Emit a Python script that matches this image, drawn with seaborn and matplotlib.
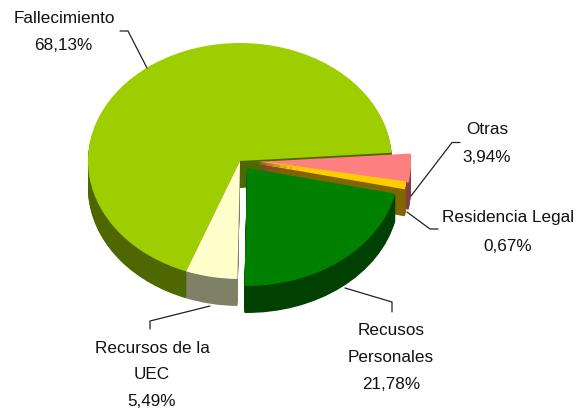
import matplotlib
matplotlib.use("Agg")
import matplotlib.pyplot as plt
import seaborn as sns

labels = ["Fallecimiento", "Recursos de la UEC", "Recusos Personales", "Residencia Legal", "Otras"]
values = [68.13, 5.49, 21.78, 0.67, 3.94]
face_colors = ["#9FCE00", "#FFFFCC", "#008000", "#FFCC00", "#FF8080"]
side_colors = ["#4F6700", "#808066", "#004000", "#806600", "#804040"]
explode = [0.0, 0.0, 0.075, 0.11, 0.125]
face_lift = [0, 0, 0, 3, 0]
draw_order = [0, 4, 3, 1, 2]

W, H = 579, 414
CX, CY, RX, RY, DEPTH = 240, 162, 152, 118, 27

sns.set_theme(style="white")
plt.rcParams["font.family"] = ["Liberation Sans", "DejaVu Sans"]

fig = plt.figure(figsize=(W / 100, H / 100), dpi=100)
ax = fig.add_axes([0, 0, 1, 1])

def px(x):
    return (x - CX) / RX

def py(y):
    return (CY - y) / RY

def draw_slice(idx, off, color):
    wedges, _ = ax.pie(values, explode=explode, startangle=4, counterclock=True,
                       center=(0, -off / RY), radius=1, frame=True,
                       colors=[color] * len(values),
                       wedgeprops={"linewidth": 0})
    for i, w in enumerate(wedges):
        if i != idx:
            w.remove()

for idx in draw_order:
    for off in range(DEPTH, 0, -1):
        draw_slice(idx, off, side_colors[idx])
    for off in range(-face_lift[idx], 1):
        draw_slice(idx, off, face_colors[idx])

ax.set_aspect("auto")
ax.set_xlim(px(0), px(W))
ax.set_ylim(py(H), py(0))
ax.axis("off")

text_style = dict(fontsize=12.3, color="#111111", ha="center", va="center", linespacing=1.0)
ax.text(px(64), py(19), "Fallecimiento", **text_style)
ax.text(px(63), py(45), "68,13%", **text_style)
ax.text(px(487), py(130), "Otras", **text_style)
ax.text(px(487), py(158), "3,94%", **text_style)
ax.text(px(508), py(218), "Residencia Legal", **text_style)
ax.text(px(508), py(247), "0,67%", **text_style)
ax.text(px(391), py(331), "Recusos", **text_style)
ax.text(px(391), py(358), "Personales", **text_style)
ax.text(px(391), py(385), "21,78%", **text_style)
ax.text(px(152), py(349), "Recursos de la", **text_style)
ax.text(px(152), py(375), "UEC", **text_style)
ax.text(px(152), py(402), "5,49%", **text_style)

leaders = [
    ([120, 128, 147], [32, 32, 69]),
    ([460, 452, 411], [143.5, 143.5, 197]),
    ([407, 430, 438], [213, 230, 230]),
    ([345, 392, 392], [289, 303, 313]),
    ([150, 150, 210], [330, 322, 307]),
]
for xs, ys in leaders:
    ax.plot([px(x) for x in xs], [py(y) for y in ys], color="#222222", lw=0.9)

fig.savefig("out.png", dpi=100)
